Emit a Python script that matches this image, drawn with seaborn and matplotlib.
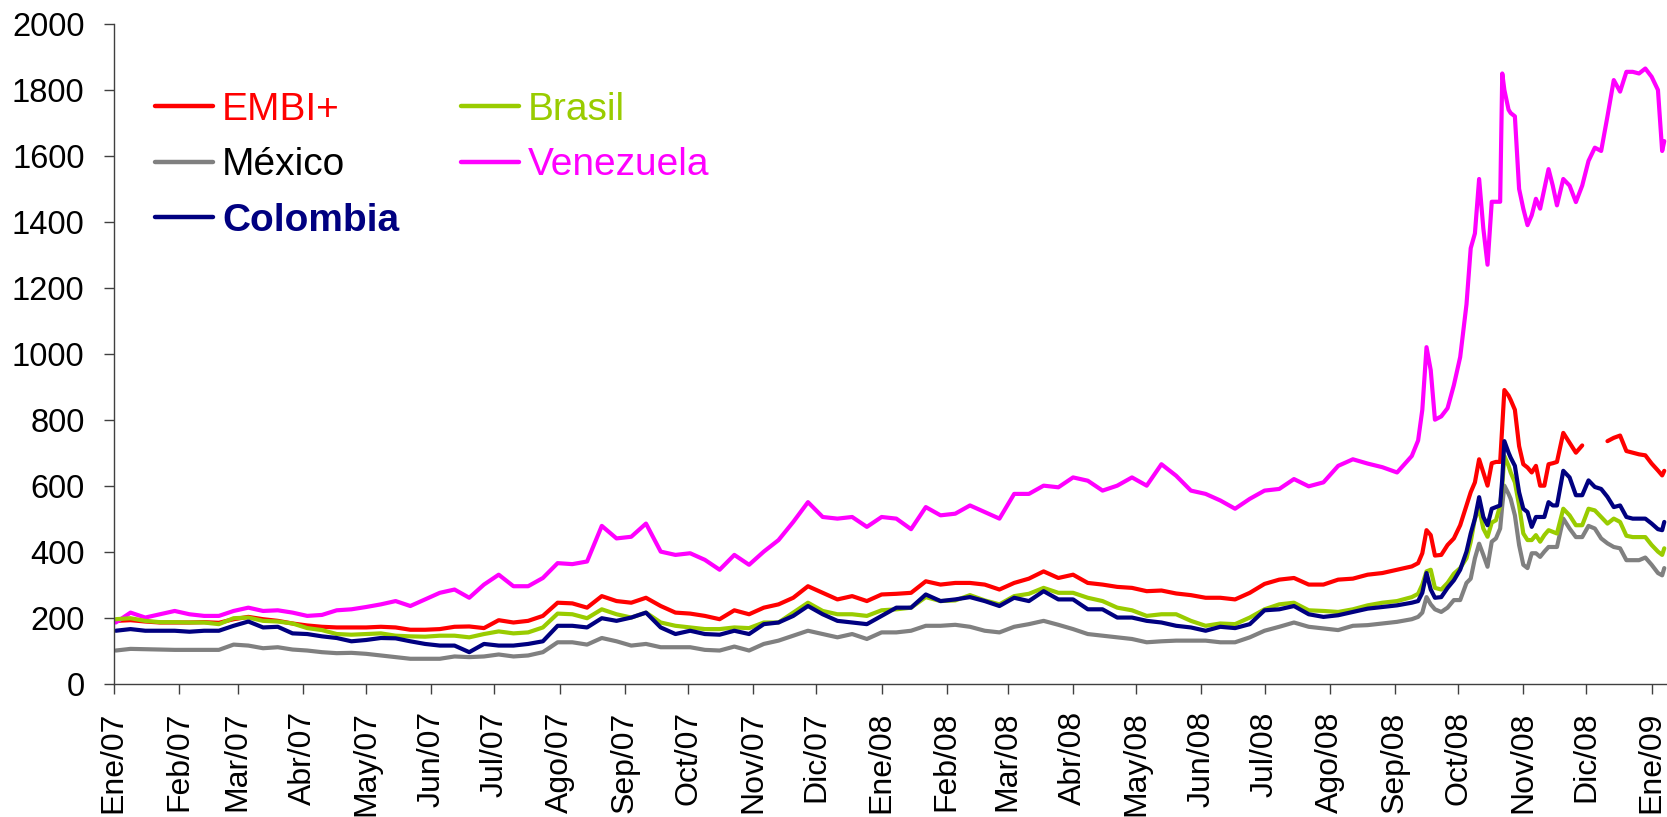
import numpy as np
import pandas as pd
import matplotlib
matplotlib.use("Agg")
import matplotlib.pyplot as plt
import seaborn as sns
from matplotlib.lines import Line2D

# ---------------- data ----------------
weekly_dates = pd.date_range("2007-01-02", periods=89, freq="7D")
crisis_dates = pd.to_datetime([
    "2008-09-12", "2008-09-14", "2008-09-16", "2008-09-18", "2008-09-20",
    "2008-09-23", "2008-09-26", "2008-09-29", "2008-10-02", "2008-10-05",
    "2008-10-07", "2008-10-09", "2008-10-11", "2008-10-13", "2008-10-15",
    "2008-10-17", "2008-10-19", "2008-10-21", "2008-10-22", "2008-10-23",
    "2008-10-25", "2008-10-26", "2008-10-28", "2008-10-30", "2008-11-01",
    "2008-11-03", "2008-11-05", "2008-11-07", "2008-11-09", "2008-11-11",
    "2008-11-13", "2008-11-15", "2008-11-17", "2008-11-20", "2008-11-23",
    "2008-11-26", "2008-11-29", "2008-12-02", "2008-12-05", "2008-12-08",
    "2008-12-11", "2008-12-14", "2008-12-17", "2008-12-20", "2008-12-23",
    "2008-12-26", "2008-12-29", "2009-01-01", "2009-01-04", "2009-01-06",
    "2009-01-07"])
dates = weekly_dates.append(crisis_dates)

embi = [190, 192, 188, 185, 185, 185, 186, 184, 195, 202, 195, 190, 182, 176, 172, 170, 170, 170, 172, 170,
        163, 163, 165, 172, 173, 168, 192,
        185, 190, 205, 245, 243, 230, 265, 250, 245, 260, 235, 215, 212, 205, 195, 222, 210, 230, 240, 260,
        295, 275, 255, 265, 250, 270,
        272, 275, 310, 300, 305, 305, 300, 285, 305, 318, 340, 320, 330, 305, 300, 293, 290, 280, 282, 273,
        268, 260, 260, 255, 275, 302, 315,
        320, 300, 300, 315, 318, 330, 335, 345, 355,
        365, 395, 465, 450, 388, 390, 420, 440, 480, 540, 580, 610, 680, 640, 600, 668, 672, 672, 780, 890,
        873, 860, 830, 720, 665, 655, 640, 660, 600, 600, 665, 668, 672, 760, 730, 700, 722, np.nan, np.nan,
        np.nan, 735, 745, 752, 705, 700, 695, 692, 667, 646, 631, 645]

mexico = [100, 105, 104, 103, 102, 102, 102, 102, 118, 115, 107, 110, 103, 100, 95, 92, 93, 90, 85, 80,
          75, 75, 75, 82, 80, 82, 88,
          82, 85, 95, 125, 125, 118, 138, 128, 115, 120, 110, 110, 110, 102, 100, 112, 100, 120, 130, 145,
          160, 150, 140, 150, 135, 155,
          155, 160, 175, 175, 178, 172, 160, 155, 172, 180, 190, 178, 165, 150, 145, 140, 135, 125, 128, 130,
          130, 130, 125, 125, 140, 160, 172,
          185, 172, 167, 162, 175, 177, 182, 187, 195,
          202, 215, 262, 240, 225, 217, 230, 253, 253, 305, 318, 380, 424, 390, 354, 430, 440, 470, 540, 600,
          575, 560, 510, 420, 360, 350, 395, 395, 384, 400, 414, 414, 414, 500, 470, 444, 444, 478, 470,
          440, 425, 414, 410, 374, 374, 374, 382, 360, 335, 328, 350]

colombia = [160, 165, 160, 160, 160, 157, 160, 160, 175, 188, 170, 172, 152, 150, 143, 138, 128, 132, 138, 137,
            128, 120, 115, 115, 95, 120, 115,
            115, 120, 128, 175, 175, 170, 198, 190, 200, 215, 170, 150, 160, 150, 148, 160, 150, 180, 185, 205,
            235, 210, 190, 185, 180, 205,
            230, 230, 270, 250, 255, 262, 250, 235, 260, 250, 280, 255, 255, 225, 225, 200, 200, 190, 185, 175,
            170, 160, 172, 168, 180, 222, 225,
            235, 210, 202, 207, 217, 227, 232, 237, 245,
            250, 275, 335, 285, 260, 262, 290, 313, 345, 400, 455, 500, 565, 505, 480, 530, 535, 540, 620, 735,
            700, 685, 660, 580, 530, 520, 475, 505, 505, 505, 550, 540, 540, 645, 625, 571, 571, 616, 596,
            590, 566, 535, 540, 505, 500, 500, 500, 485, 468, 465, 490]

brasil = [195, 198, 190, 186, 186, 185, 185, 180, 198, 200, 190, 188, 182, 168, 162, 150, 148, 150, 152, 145,
          143, 142, 145, 145, 140, 150, 158,
          152, 155, 170, 212, 210, 198, 225, 210, 200, 215, 185, 175, 170, 165, 165, 170, 168, 185, 185, 215,
          245, 220, 210, 210, 205, 222,
          225, 230, 262, 250, 252, 268, 252, 240, 265, 272, 290, 275, 275, 260, 250, 230, 222, 205, 210, 210,
          190, 175, 182, 180, 200, 225, 240,
          245, 222, 220, 217, 225, 237, 245, 250, 262,
          272, 300, 340, 345, 290, 285, 305, 333, 350, 380, 430, 500, 530, 470, 445, 488, 495, 540, 600, 690,
          660, 640, 610, 540, 455, 435, 435, 450, 430, 450, 465, 460, 455, 530, 510, 480, 480, 530, 525,
          505, 485, 500, 490, 448, 444, 444, 444, 420, 400, 390, 410]

venezuela = [185, 215, 200, 210, 220, 210, 205, 205, 220, 230, 220, 222, 215, 205, 208, 222, 225, 232, 240, 250,
             235, 255, 275, 285, 260, 300, 330,
             295, 295, 320, 365, 362, 370, 478, 440, 445, 485, 400, 390, 395, 375, 345, 390, 360, 400, 435, 490,
             550, 505, 500, 505, 475, 505,
             500, 468, 535, 510, 515, 540, 520, 500, 575, 575, 600, 595, 625, 615, 585, 600, 625, 600, 665, 630,
             585, 575, 555, 530, 560, 585, 590,
             620, 598, 610, 660, 680, 667, 656, 640, 690,
             737, 830, 1020, 950, 800, 810, 835, 905, 990, 1150, 1320, 1365, 1530, 1380, 1270, 1461, 1461, 1461,
             1850, 1800, 1740, 1730, 1720, 1500, 1440, 1390, 1420, 1470, 1440, 1500, 1560, 1510, 1450, 1530,
             1510, 1460, 1510, 1585, 1625, 1615, 1720, 1830, 1795, 1855, 1855, 1850, 1865, 1840, 1800, 1615, 1645]

series_names = ["EMBI+", "México", "Colombia", "Brasil", "Venezuela"]
series_colors = {"EMBI+": "#FF0000", "México": "#808080", "Colombia": "#000080",
                 "Brasil": "#99CC00", "Venezuela": "#FF00FF"}
month_abbr = ["Ene", "Feb", "Mar", "Abr", "May", "Jun", "Jul", "Ago", "Sep", "Oct", "Nov", "Dic"]
y_ticks = [0, 200, 400, 600, 800, 1000, 1200, 1400, 1600, 1800, 2000]

df = pd.DataFrame({"fecha": dates, "EMBI+": embi, "México": mexico, "Colombia": colombia,
                   "Brasil": brasil, "Venezuela": venezuela})

# ---------------- figure ----------------
sns.set_theme(style="white")
plt.rcParams["font.family"] = ["Liberation Sans", "DejaVu Sans"]

fig = plt.figure(figsize=(16.67, 8.17), dpi=100)
ax = fig.add_axes([0.0682, 0.1634, 0.9318, 0.8072])

draw_order = ["EMBI+", "México", "Venezuela", "Brasil", "Colombia"]
handles = {}
for name in draw_order:
    sub = df[["fecha", name]].copy()
    run = sub[name].isna().cumsum()
    sub = sub.assign(run=run).dropna()
    for _, seg in sub.groupby("run"):
        sns.lineplot(data=seg, x="fecha", y=name, ax=ax, color=series_colors[name],
                     linewidth=3.0, estimator=None, sort=False, legend=False)
    handles[name] = Line2D([], [], color=series_colors[name], linewidth=3.2)

x0 = pd.Timestamp("2007-01-01")
ax.set_xlim(x0, x0 + pd.Timedelta(days=738.3))
ax.set_ylim(0, 2000)

month_starts = pd.date_range("2007-01-01", "2009-01-01", freq="MS")
tick_labels = [f"{month_abbr[d.month - 1]}/{d.year % 100:02d}" for d in month_starts]
ax.set_xticks(month_starts)
ax.set_xticklabels(tick_labels, rotation=90)
ax.set_yticks(y_ticks)
ax.set_yticklabels([str(v) for v in y_ticks])
ax.set_xlabel("")
ax.set_ylabel("")
ax.grid(False)

for side in ["top", "right"]:
    ax.spines[side].set_visible(False)
for side in ["left", "bottom"]:
    ax.spines[side].set_color("#404040")
    ax.spines[side].set_linewidth(1.0)

ax.tick_params(axis="both", bottom=True, left=True, direction="out", length=7,
               width=1, color="#404040", labelcolor="black")
ax.tick_params(axis="x", pad=13, labelsize=23)
ax.tick_params(axis="y", pad=14, labelsize=23.5)

leg_order = ["EMBI+", "México", "Colombia", "Brasil", "Venezuela"]
text_colors = {"EMBI+": "#FF0000", "México": "#000000", "Colombia": "#000080",
               "Brasil": "#99CC00", "Venezuela": "#FF00FF"}
leg = ax.legend([handles[n] for n in leg_order], leg_order, ncol=2, loc="upper left",
                bbox_to_anchor=(155 / 1667, 1 - 92 / 817), bbox_transform=fig.transFigure,
                frameon=False, fontsize=28, handlelength=1.49, handletextpad=0.23,
                columnspacing=1.6, labelspacing=0.5, borderpad=0, borderaxespad=0)
for txt, n in zip(leg.get_texts(), leg_order):
    txt.set_color(text_colors[n])
    if n == "Colombia":
        txt.set_fontweight("bold")

fig.savefig("out.png", dpi=100)
